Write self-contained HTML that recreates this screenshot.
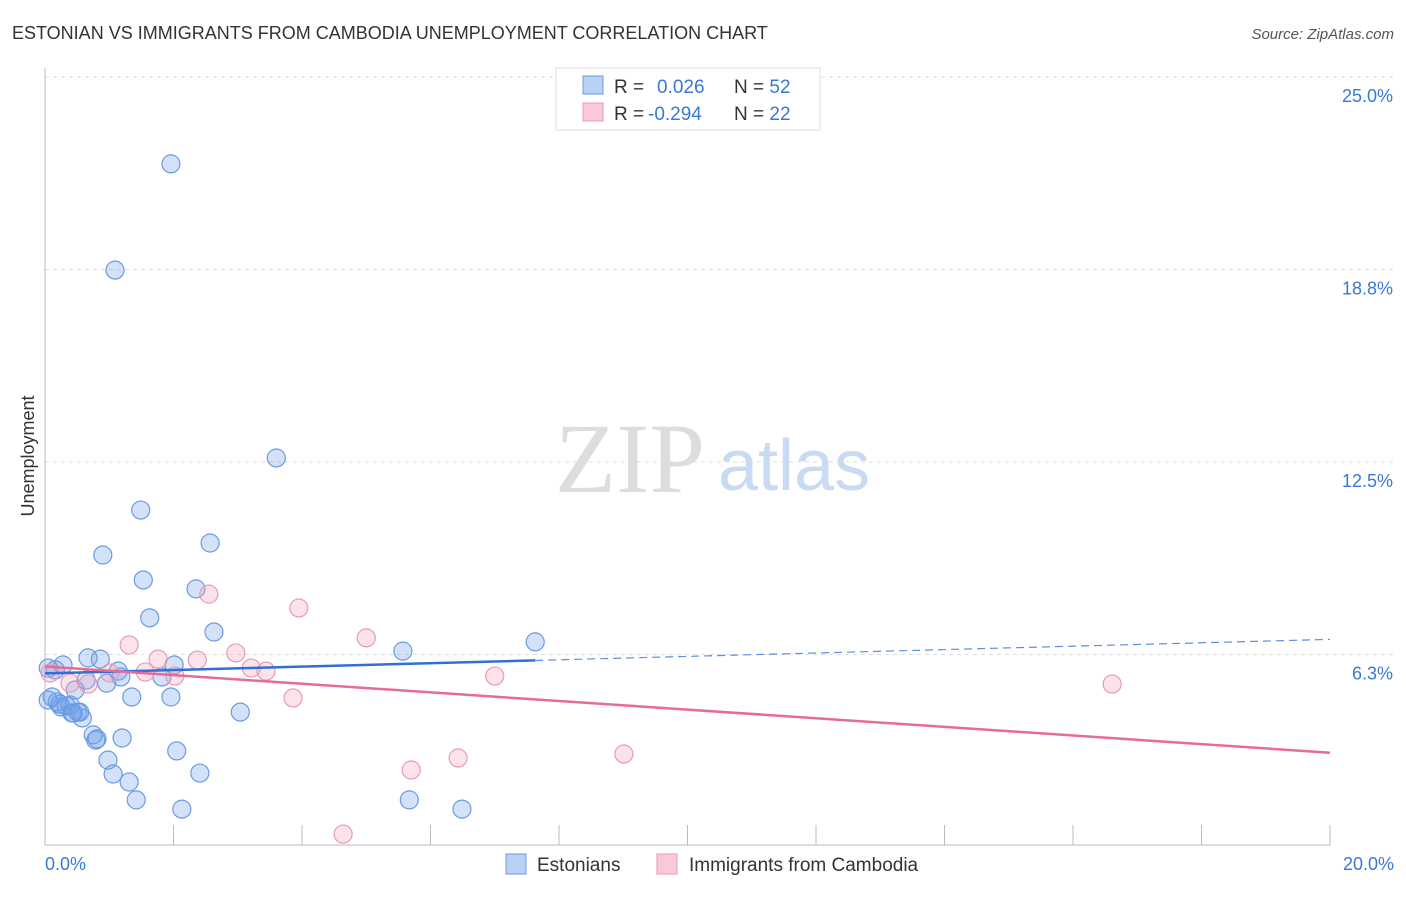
<!DOCTYPE html>
<html><head><meta charset="utf-8"><style>
body{margin:0;background:#fff;font-family:"Liberation Sans",sans-serif;}
</style></head><body>
<svg width="1406" height="892" xmlns="http://www.w3.org/2000/svg" font-family="Liberation Sans, sans-serif">
<text x="12" y="39" font-size="18" fill="#333">ESTONIAN VS IMMIGRANTS FROM CAMBODIA UNEMPLOYMENT CORRELATION CHART</text>
<text x="1394" y="39" font-size="15" fill="#555" text-anchor="end" font-style="italic">Source: ZipAtlas.com</text>
<text x="555" y="492" font-size="100" fill="#ddd" font-family="Liberation Serif, serif">ZIP</text>
<text x="718" y="490" font-size="72" fill="#c9daf3">atlas</text>
<g id="grid"></g>
<line x1="45" y1="68" x2="45" y2="845" stroke="#bbb"/>
<line x1="45" y1="845" x2="1330" y2="845" stroke="#bbb"/>
<g id="ticks"></g>
<text x="34" y="456" font-size="18" fill="#333" text-anchor="middle" transform="rotate(-90 34 456)">Unemployment</text>
<text x="45" y="870" font-size="18" fill="#3a78d8">0.0%</text>
<text x="1394" y="870" font-size="18" fill="#3a78d8" text-anchor="end">20.0%</text>
<g id="pts"></g>
<g id="lines"></g>
<g>
<rect x="556" y="68" width="264" height="62" fill="#fff" stroke="#ddd"/>
<rect x="583" y="76" width="20" height="18" fill="#b9d1f5" stroke="#6a9be0"/>
<rect x="583" y="103" width="20" height="18" fill="#f9c9d8" stroke="#e89ab5"/>
<text x="614" y="93" font-size="19" fill="#333">R = <tspan fill="#3a78d8" x="657">0.026</tspan><tspan x="734" fill="#333">N = </tspan><tspan fill="#3a78d8">52</tspan></text>
<text x="614" y="120" font-size="19" fill="#333">R = <tspan fill="#3a78d8" x="648">-0.294</tspan><tspan x="734" fill="#333">N = </tspan><tspan fill="#3a78d8">22</tspan></text>
</g>
<g>
<rect x="506" y="854" width="20" height="20" fill="#b9d1f5" stroke="#6a9be0"/>
<text x="537" y="871" font-size="19" fill="#333">Estonians</text>
<rect x="657" y="854" width="20" height="20" fill="#f9c9d8" stroke="#e89ab5"/>
<text x="689" y="871" font-size="19" fill="#333">Immigrants from Cambodia</text>
</g>
</svg>
<script>
const yTicks=[25,18.75,12.5,6.25];
const yTickLabels=["25.0%","18.8%","12.5%","6.3%"];
const xTicks=[0,2,4,6,8,10,12,14,16,18,20];
const blueX=[1.96,1.09,3.60,1.49,2.57,0.90,1.53,2.35,1.63,2.63,7.63,5.57,0.67,0.86,0.28,0.05,1.14,2.01,1.18,1.82,0.64,0.96,0.47,1.35,1.96,0.11,0.19,0.25,0.33,0.39,0.51,0.42,0.58,3.04,0.75,0.81,0.79,1.20,2.05,0.98,1.06,2.41,1.31,1.42,2.13,5.67,6.49,0.05,0.23,0.44,0.54,0.16];
const blueY=[22.18,18.73,12.63,10.94,9.87,9.48,8.67,8.38,7.44,6.98,6.66,6.36,6.14,6.10,5.91,5.81,5.71,5.91,5.52,5.52,5.42,5.32,5.10,4.87,4.87,4.87,4.71,4.55,4.58,4.61,4.38,4.35,4.19,4.38,3.64,3.51,3.47,3.54,3.12,2.82,2.37,2.40,2.11,1.53,1.23,1.53,1.23,4.77,4.64,4.35,4.38,5.75];
const pinkX=[0.08,1.31,2.55,3.95,5.00,2.97,2.37,1.76,1.01,1.56,2.02,3.21,3.44,0.67,0.39,3.86,7.00,16.61,9.01,6.43,5.70,4.64];
const pinkY=[5.65,6.56,8.21,7.76,6.79,6.30,6.07,6.10,5.65,5.68,5.55,5.81,5.71,5.29,5.32,4.84,5.55,5.29,3.02,2.89,2.50,0.42];
const NS="http://www.w3.org/2000/svg";
const sx=v=>45+v*64.25, sy=v=>847-v*30.8;
function mk(t,a,p){const e=document.createElementNS(NS,t);for(const k in a)e.setAttribute(k,a[k]);p.appendChild(e);return e;}
const grid=document.getElementById('grid');
yTicks.forEach((v,i)=>{
 const l=mk('line',{x1:45,x2:1394,y1:sy(v),y2:sy(v),stroke:'#ddd','stroke-dasharray':'4,4'},grid);
 
 
 const t=mk('text',{x:1393,y:sy(v)+25,'font-size':18,fill:'#3a78d8','text-anchor':'end'},grid);
 t.textContent=yTickLabels[i];
 
 
});
const tk=document.getElementById('ticks');
xTicks.forEach(v=>{
 const l=mk('line',{x1:sx(v),x2:sx(v),y1:825,y2:845,stroke:'#bbb'},tk);
 
 
});
const pts=document.getElementById('pts');
blueX.forEach((x,i)=>{
 const c=mk('circle',{cx:sx(x),cy:sy(blueY[i]),r:9,fill:'rgba(110,160,235,0.3)',stroke:'#6a9be0','stroke-width':1.2},pts);
 
 
});
pinkX.forEach((x,i)=>{
 const c=mk('circle',{cx:sx(x),cy:sy(pinkY[i]),r:9,fill:'rgba(245,160,190,0.3)',stroke:'#e89ab5','stroke-width':1.2},pts);
 
 
});
function fit(X,Y){const n=X.length;let mx=0,my=0;X.forEach((x,i)=>{mx+=x;my+=Y[i];});mx/=n;my/=n;let sxy=0,sxx=0;X.forEach((x,i)=>{sxy+=(x-mx)*(Y[i]-my);sxx+=(x-mx)*(x-mx);});const b=sxy/sxx;return[my-b*mx,b];}
const lines=document.getElementById('lines');
const [ba,bb]=fit(blueX,blueY);
const bmax=Math.max(...blueX);
let l=mk('line',{x1:sx(0),y1:sy(ba),x2:sx(bmax),y2:sy(ba+bb*bmax),stroke:'#2f6fd6','stroke-width':2.5},lines);


l=mk('line',{x1:sx(bmax),y1:sy(ba+bb*bmax),x2:sx(20),y2:sy(ba+bb*20),stroke:'#5b8fe0','stroke-width':1.2,'stroke-dasharray':'8,5'},lines);


const [pa,pb]=fit(pinkX,pinkY);
l=mk('line',{x1:sx(0),y1:sy(pa),x2:sx(20),y2:sy(pa+pb*20),stroke:'#e66b97','stroke-width':2.5},lines);


</script>
</body></html>
